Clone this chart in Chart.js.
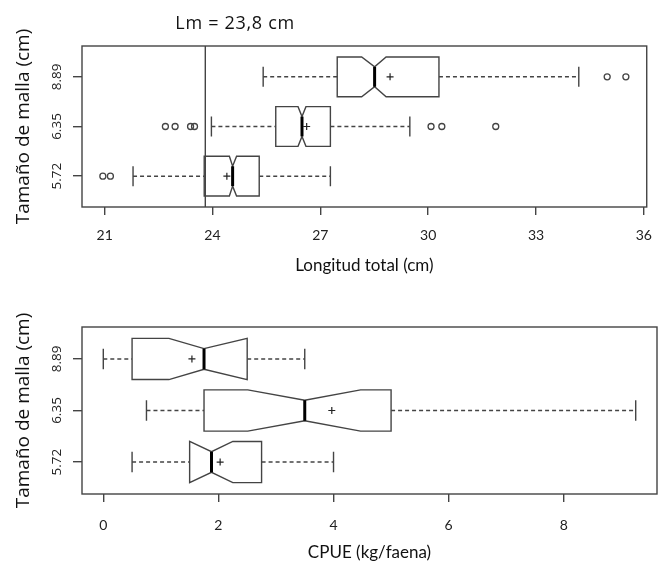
<!DOCTYPE html>
<html>
<head>
<meta charset="utf-8">
<script src="https://cdn.jsdelivr.net/npm/chart.js@4.4.0/dist/chart.umd.min.js"></script>
<style>
  body { margin: 0; background: #fff; }
  #wrap { position: relative; width: 664px; height: 564px; }
  canvas { position: absolute; left: 0; }
</style>
</head>
<body>
<div id="wrap">
  <canvas id="topChart" width="664" height="290" style="top:0"></canvas>
  <canvas id="bottomChart" width="664" height="274" style="top:290px"></canvas>
</div>
<script>
// mesh sizes, bottom to top
const mallas = ['5.72', '6.35', '8.89'];

// Longitud total (cm) - per mesh size
const lenWhiskLo = [21.79, 23.97, 25.41];
const lenQ1      = [23.77, 25.76, 27.47];
const lenNotchLo = [24.47, 26.38, 28.15];
const lenMedian  = [24.56, 26.49, 28.51];
const lenNotchHi = [24.67, 26.60, 28.83];
const lenQ3      = [25.30, 27.28, 30.30];
const lenWhiskHi = [27.28, 29.49, 34.19];
const lenMean    = [24.40, 26.62, 28.94];
const lenOutliers = [
  [20.95, 21.16],
  [22.69, 22.96, 23.39, 23.50, 30.08, 30.38, 31.88],
  [34.98, 35.50]
];
const lenTicks = [21, 24, 27, 30, 33, 36];
const lm = 23.8;

// CPUE (kg/faena) - per mesh size
const cpueWhiskLo = [0.50, 0.75, 0.00];
const cpueQ1      = [1.50, 1.75, 0.50];
const cpueNotchLo = [1.50, 2.51, 1.14];
const cpueMedian  = [1.88, 3.50, 1.75];
const cpueNotchHi = [2.25, 4.47, 2.50];
const cpueQ3      = [2.75, 5.00, 2.50];
const cpueWhiskHi = [4.00, 9.25, 3.50];
const cpueMean    = [2.03, 3.97, 1.54];
const cpueOutliers = [[], [], []];
const cpueTicks = [0, 2, 4, 6, 8];

const lineCol = '#444';

// notched boxplot drawn the way R's bxp does it
function boxPlugin(st) {
  return {
    id: 'notchBoxes',
    beforeDatasetsDraw(chart) {
      const {ctx, chartArea, scales: {x, y}} = chart;
      const halfW = Math.abs(y.getPixelForValue(1.4) - y.getPixelForValue(1));
      ctx.save();
      // frame
      ctx.strokeStyle = lineCol;
      ctx.lineWidth = 1.4;
      ctx.strokeRect(chartArea.left, chartArea.top, chartArea.width, chartArea.height);

      for (let i = 0; i < mallas.length; i++) {
        const yc = y.getPixelForValue(i + 1);
        const px = v => x.getPixelForValue(v);
        // whiskers
        ctx.strokeStyle = lineCol;
        ctx.lineWidth = 1.4;
        ctx.setLineDash([4, 3]);
        ctx.beginPath();
        ctx.moveTo(px(st.wl[i]), yc); ctx.lineTo(px(st.q1[i]), yc);
        ctx.moveTo(px(st.q3[i]), yc); ctx.lineTo(px(st.wh[i]), yc);
        ctx.stroke();
        ctx.setLineDash([]);
        // staples
        ctx.beginPath();
        ctx.moveTo(px(st.wl[i]), yc - halfW / 2); ctx.lineTo(px(st.wl[i]), yc + halfW / 2);
        ctx.moveTo(px(st.wh[i]), yc - halfW / 2); ctx.lineTo(px(st.wh[i]), yc + halfW / 2);
        ctx.stroke();
        // notched box
        const pts = [
          [st.q1[i], -1], [st.q1[i], 1], [st.cl[i], 1], [st.med[i], 0.5], [st.ch[i], 1],
          [st.q3[i], 1], [st.q3[i], -1], [st.ch[i], -1], [st.med[i], -0.5], [st.cl[i], -1]
        ];
        ctx.beginPath();
        pts.forEach((p, k) => {
          const xx = px(p[0]), yy = yc + p[1] * halfW;
          if (k === 0) ctx.moveTo(xx, yy); else ctx.lineTo(xx, yy);
        });
        ctx.closePath();
        ctx.fillStyle = '#fff';
        ctx.fill();
        ctx.stroke();
        // median
        ctx.strokeStyle = '#000';
        ctx.lineWidth = 3;
        ctx.beginPath();
        ctx.moveTo(px(st.med[i]), yc - halfW / 2);
        ctx.lineTo(px(st.med[i]), yc + halfW / 2);
        ctx.stroke();
      }
      ctx.restore();
    }
  };
}

const lmPlugin = {
  id: 'lmLine',
  afterDatasetsDraw(chart) {
    const {ctx, chartArea, scales: {x}} = chart;
    const xp = x.getPixelForValue(lm);
    ctx.save();
    ctx.strokeStyle = lineCol;
    ctx.lineWidth = 1.4;
    ctx.beginPath();
    ctx.moveTo(xp, chartArea.top);
    ctx.lineTo(xp, chartArea.bottom);
    ctx.stroke();
    ctx.fillStyle = '#111';
    ctx.font = '18px "Open Sans"';
    ctx.letterSpacing = '0.7px';
    ctx.textBaseline = 'middle';
    ctx.fillText('Lm = 23,8 cm', xp - 30, chartArea.top - 22);
    ctx.restore();
  }
};

function pointsFor(vals) {
  const out = [];
  vals.forEach((arr, i) => arr.forEach(v => out.push({x: v, y: i + 1})));
  return out;
}

function makeChart(id, st, xTicks, xMin, xMax, xTitle, layout, extra) {
  return new Chart(document.getElementById(id), {
    type: 'scatter',
    data: {
      datasets: [
        {
          data: pointsFor(st.out),
          pointStyle: 'circle',
          radius: 3,
          borderColor: lineCol,
          backgroundColor: 'rgba(0,0,0,0)',
          borderWidth: 1.3
        },
        {
          data: st.mean.map((v, i) => ({x: v, y: i + 1})),
          pointStyle: 'cross',
          radius: 3.5,
          borderColor: '#222',
          borderWidth: 1.2
        }
      ]
    },
    options: {
      responsive: false,
      animation: false,
      layout: {padding: layout.padding},
      plugins: {legend: {display: false}, tooltip: {enabled: false}},
      scales: {
        x: {
          type: 'linear',
          min: xMin,
          max: xMax,
          afterBuildTicks: s => { s.ticks = xTicks.map(v => ({value: v})); },
          afterFit: s => { s.height = layout.xHeight; },
          grid: {drawOnChartArea: false, tickLength: 8, color: lineCol, lineWidth: 1.4},
          border: {display: false},
          ticks: {color: '#222', font: {family: 'Lato', size: 14}, padding: layout.tickPad},
          title: {display: true, text: xTitle, color: '#111',
                  font: {family: 'Lato', size: layout.titleSize},
                  padding: {top: 0, bottom: layout.titlePad}}
        },
        y: {
          type: 'linear',
          min: 0.38,
          max: 3.62,
          afterBuildTicks: s => { s.ticks = mallas.map((m, i) => ({value: i + 1})); },
          afterFit: s => { s.width = layout.yWidth; },
          grid: {drawOnChartArea: false, tickLength: 9, color: lineCol, lineWidth: 1.4},
          border: {display: false},
          ticks: {color: '#222', font: {family: 'Open Sans', size: 13.5}, padding: 2,
                  minRotation: 90, maxRotation: 90, crossAlign: 'center',
                  callback: v => mallas[v - 1]},
          title: {display: true, text: 'Tamaño de malla (cm)', color: '#111',
                  font: {family: 'Open Sans', size: 19}, padding: {top: 12, bottom: 0}}
        }
      }
    },
    plugins: [boxPlugin(st)].concat(extra)
  });
}

makeChart('topChart', {
  wl: lenWhiskLo, q1: lenQ1, cl: lenNotchLo, med: lenMedian, ch: lenNotchHi,
  q3: lenQ3, wh: lenWhiskHi, mean: lenMean, out: lenOutliers
}, lenTicks, 20.37, 36.08, 'Longitud total (cm)',
  {padding: {top: 46, right: 6, left: 0, bottom: 0}, xHeight: 83, yWidth: 82,
   tickPad: 12, titleSize: 17, titlePad: 14}, [lmPlugin]);

makeChart('bottomChart', {
  wl: cpueWhiskLo, q1: cpueQ1, cl: cpueNotchLo, med: cpueMedian, ch: cpueNotchHi,
  q3: cpueQ3, wh: cpueWhiskHi, mean: cpueMean, out: cpueOutliers
}, cpueTicks, -0.37, 9.62, 'CPUE (kg/faena)',
  {padding: {top: 37, right: 7, left: 0, bottom: 0}, xHeight: 70, yWidth: 82,
   tickPad: 15, titleSize: 17, titlePad: 1}, []);
</script>
</body>
</html>
